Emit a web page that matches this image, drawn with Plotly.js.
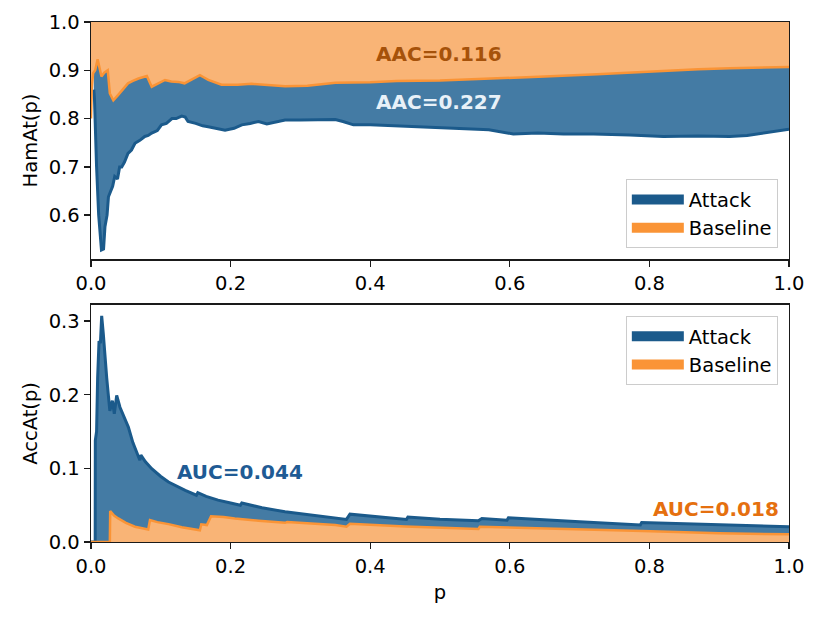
<!DOCTYPE html>
<html>
<head>
<meta charset="utf-8">
<script src="https://cdn.plot.ly/plotly-3.0.1.min.js"></script>
<style>html,body{margin:0;padding:0;background:#fff;}#chart{width:820px;height:620px;}</style>
</head>
<body>
<div id="chart"></div>
<script>
// ---- Top panel: HamAt(p) ----
const hamAttackX = [0.004,0.005,0.008,0.011,0.015,0.018,0.020,0.023,0.025,0.028,0.031,0.034,0.038,0.041,0.044,0.048,0.053,0.058,0.063,0.070,0.077,0.082,0.087,0.095,0.101,0.108,0.116,0.122,0.130,0.135,0.139,0.150,0.160,0.168,0.180,0.192,0.205,0.216,0.228,0.240,0.252,0.265,0.278,0.300,0.330,0.350,0.361,0.376,0.400,0.438,0.480,0.533,0.570,0.605,0.640,0.677,0.720,0.772,0.820,0.870,0.915,0.940,0.963,0.980,1.000];
const hamAttackY = [0.86,0.84,0.70,0.60,0.528,0.53,0.576,0.60,0.638,0.65,0.66,0.68,0.675,0.70,0.70,0.71,0.728,0.735,0.749,0.755,0.763,0.765,0.77,0.775,0.787,0.79,0.80,0.80,0.805,0.803,0.794,0.79,0.785,0.783,0.78,0.776,0.78,0.787,0.79,0.794,0.789,0.793,0.797,0.797,0.798,0.798,0.794,0.787,0.787,0.785,0.783,0.78,0.777,0.768,0.77,0.768,0.768,0.766,0.763,0.764,0.763,0.765,0.77,0.773,0.778];
const hamBaseX = [0,0.001,0.003,0.006,0.0095,0.012,0.015,0.019,0.024,0.027,0.032,0.039,0.046,0.053,0.060,0.068,0.080,0.084,0.087,0.095,0.106,0.115,0.125,0.134,0.145,0.156,0.162,0.168,0.187,0.210,0.230,0.250,0.278,0.310,0.350,0.400,0.438,0.500,0.581,0.650,0.725,0.780,0.820,0.870,0.915,0.960,1.000];
const hamBaseY = [0.80,0.86,0.894,0.90,0.923,0.905,0.887,0.895,0.90,0.852,0.838,0.849,0.86,0.873,0.878,0.883,0.888,0.875,0.866,0.872,0.88,0.877,0.876,0.873,0.882,0.89,0.885,0.88,0.87,0.87,0.872,0.87,0.867,0.868,0.874,0.875,0.878,0.879,0.883,0.887,0.892,0.896,0.899,0.902,0.904,0.905,0.907];

// ---- Bottom panel: AccAt(p) ----
const accAttackX = [0,0.006,0.0062,0.008,0.0095,0.0115,0.0135,0.0153,0.0177,0.020,0.0225,0.027,0.0306,0.0334,0.0368,0.0415,0.047,0.0535,0.060,0.0678,0.070,0.0715,0.078,0.087,0.100,0.111,0.125,0.135,0.151,0.153,0.165,0.182,0.200,0.214,0.216,0.245,0.278,0.310,0.342,0.366,0.371,0.410,0.452,0.454,0.500,0.555,0.560,0.596,0.598,0.700,0.787,0.789,0.900,1.000];
const accAttackY = [0,0,0.138,0.15,0.223,0.273,0.27,0.307,0.282,0.25,0.223,0.178,0.192,0.174,0.199,0.183,0.17,0.156,0.135,0.115,0.111,0.118,0.109,0.0995,0.089,0.0815,0.0745,0.070,0.0635,0.067,0.062,0.0568,0.053,0.050,0.053,0.0465,0.041,0.037,0.034,0.0307,0.0378,0.034,0.0307,0.034,0.031,0.0288,0.032,0.0297,0.033,0.0275,0.023,0.0266,0.0235,0.0207];
const accBaseX = [0,0.027,0.0275,0.033,0.039,0.050,0.063,0.075,0.082,0.0845,0.095,0.111,0.130,0.156,0.158,0.166,0.168,0.172,0.190,0.206,0.240,0.278,0.281,0.310,0.350,0.366,0.371,0.450,0.555,0.557,0.650,0.787,0.790,0.900,1.000];
const accBaseY = [0,0,0.042,0.036,0.032,0.026,0.0207,0.0185,0.017,0.0297,0.027,0.0243,0.020,0.016,0.024,0.023,0.027,0.035,0.034,0.032,0.029,0.026,0.027,0.025,0.023,0.0207,0.0248,0.021,0.0176,0.0207,0.018,0.014,0.0148,0.012,0.0104];

const seriesNames = ['Attack', 'Baseline'];
const topLabels = ['AAC=0.116', 'AAC=0.227'];
const topLabelPos = [[0.4986, 0.934], [0.4986, 0.834]];
const bottomLabels = ['AUC=0.044', 'AUC=0.018'];
const bottomLabelPos = [[0.213, 0.0946], [0.895, 0.0446]];
const xTicks = [0, 0.2, 0.4, 0.6, 0.8, 1.0];
const topYTicks = [0.6, 0.7, 0.8, 0.9, 1.0];
const bottomYTicks = [0, 0.1, 0.2, 0.3];

const blueLine = '#1b5a8b', blueFill = '#447ba4';
const orangeLine = '#fa9436', orangeFill = '#f9b476';
const FONT = 'DejaVu Sans, sans-serif';
const FS = 19.5;

const ones = xs => xs.map(() => 1);
const traces = [
  {x: hamAttackX, y: ones(hamAttackX), xaxis:'x', yaxis:'y', mode:'lines', line:{width:0}, showlegend:false, hoverinfo:'skip'},
  {x: hamAttackX, y: hamAttackY, xaxis:'x', yaxis:'y', mode:'lines', fill:'tonexty', fillcolor: blueFill, line:{width:0}, showlegend:false},
  {x: hamBaseX, y: ones(hamBaseX), xaxis:'x', yaxis:'y', mode:'lines', line:{width:0}, showlegend:false, hoverinfo:'skip'},
  {x: hamBaseX, y: hamBaseY, xaxis:'x', yaxis:'y', mode:'lines', fill:'tonexty', fillcolor: orangeFill, line:{width:0}, showlegend:false},
  {x: hamAttackX, y: hamAttackY, xaxis:'x', yaxis:'y', mode:'lines', line:{color: blueLine, width:3}, showlegend:false},
  {x: hamBaseX, y: hamBaseY, xaxis:'x', yaxis:'y', mode:'lines', line:{color: orangeLine, width:2.5}, showlegend:false},
  {x: accAttackX, y: accAttackY, xaxis:'x2', yaxis:'y2', mode:'lines', fill:'tozeroy', fillcolor: blueFill, line:{color: blueLine, width:3}, showlegend:false},
  {x: accBaseX, y: accBaseY, xaxis:'x2', yaxis:'y2', mode:'lines', fill:'tozeroy', fillcolor: orangeFill, line:{color: orangeLine, width:2.5}, showlegend:false},
  {x:[null], y:[null], xaxis:'x', yaxis:'y', mode:'lines', name: seriesNames[0], line:{color: blueLine, width:10}, legend:'legend'},
  {x:[null], y:[null], xaxis:'x', yaxis:'y', mode:'lines', name: seriesNames[1], line:{color: orangeLine, width:10}, legend:'legend'},
  {x:[null], y:[null], xaxis:'x2', yaxis:'y2', mode:'lines', name: seriesNames[0], line:{color: blueLine, width:10}, legend:'legend2'},
  {x:[null], y:[null], xaxis:'x2', yaxis:'y2', mode:'lines', name: seriesNames[1], line:{color: orangeLine, width:10}, legend:'legend2'}
];

const axisCommon = {
  showgrid:false, zeroline:false, showline:true, mirror:true, linecolor:'#1a1a1a', linewidth:1.4,
  ticks:'outside', ticklen:6, tickwidth:1.4, tickcolor:'#1a1a1a',
  tickfont:{family:FONT, size:FS, color:'#000'}
};
const fmt = v => v.toFixed(1);

const legendCommon = {
  font:{family:FONT, size:FS, color:'#000'}, bgcolor:'rgba(255,255,255,0.85)',
  bordercolor:'#cccccc', borderwidth:1, itemwidth:52, tracegroupgap:0, traceorder:'normal',
  xanchor:'right', x:0.984
};

const labelColorsTop = ['#a6520a', '#e8f1f8'];
const labelColorsBottom = ['#1f5b94', '#e5700f'];
const annotations = [];
topLabels.forEach((t, i) => annotations.push({text:t, x:topLabelPos[i][0], y:topLabelPos[i][1], xref:'x', yref:'y', showarrow:false, font:{family:FONT, size:20, color:labelColorsTop[i], weight:'bold'}}));
bottomLabels.forEach((t, i) => annotations.push({text:t, x:bottomLabelPos[i][0], y:bottomLabelPos[i][1], xref:'x2', yref:'y2', showarrow:false, font:{family:FONT, size:20, color:labelColorsBottom[i], weight:'bold'}}));

const layout = {
  width:820, height:620,
  margin:{l:91, r:31, t:22, b:78},
  paper_bgcolor:'#fff', plot_bgcolor:'#fff',
  font:{family:FONT, size:FS, color:'#000'},
  xaxis: Object.assign({}, axisCommon, {domain:[0,1], range:[0,1], anchor:'y', tickvals:xTicks, ticktext:xTicks.map(fmt)}),
  yaxis: Object.assign({}, axisCommon, {domain:[0.544,1], range:[0.509,1.0], anchor:'x', tickvals:topYTicks, ticktext:topYTicks.map(fmt), title:{text:'HamAt(p)', font:{family:FONT, size:FS}, standoff:6}}),
  xaxis2: Object.assign({}, axisCommon, {domain:[0,1], range:[0,1], anchor:'y2', tickvals:xTicks, ticktext:xTicks.map(fmt), title:{text:'p', font:{family:FONT, size:FS}, standoff:8}}),
  yaxis2: Object.assign({}, axisCommon, {domain:[0,0.456], range:[0,0.322], anchor:'x2', tickvals:bottomYTicks, ticktext:bottomYTicks.map(fmt), title:{text:'AccAt(p)', font:{family:FONT, size:FS}, standoff:6}}),
  legend: Object.assign({}, legendCommon, {yanchor:'bottom', y:0.565}),
  legend2: Object.assign({}, legendCommon, {yanchor:'top', y:0.4346}),
  annotations: annotations,
  hovermode:false
};

Plotly.newPlot('chart', traces, layout, {displayModeBar:false, staticPlot:true});
</script>
</body>
</html>
